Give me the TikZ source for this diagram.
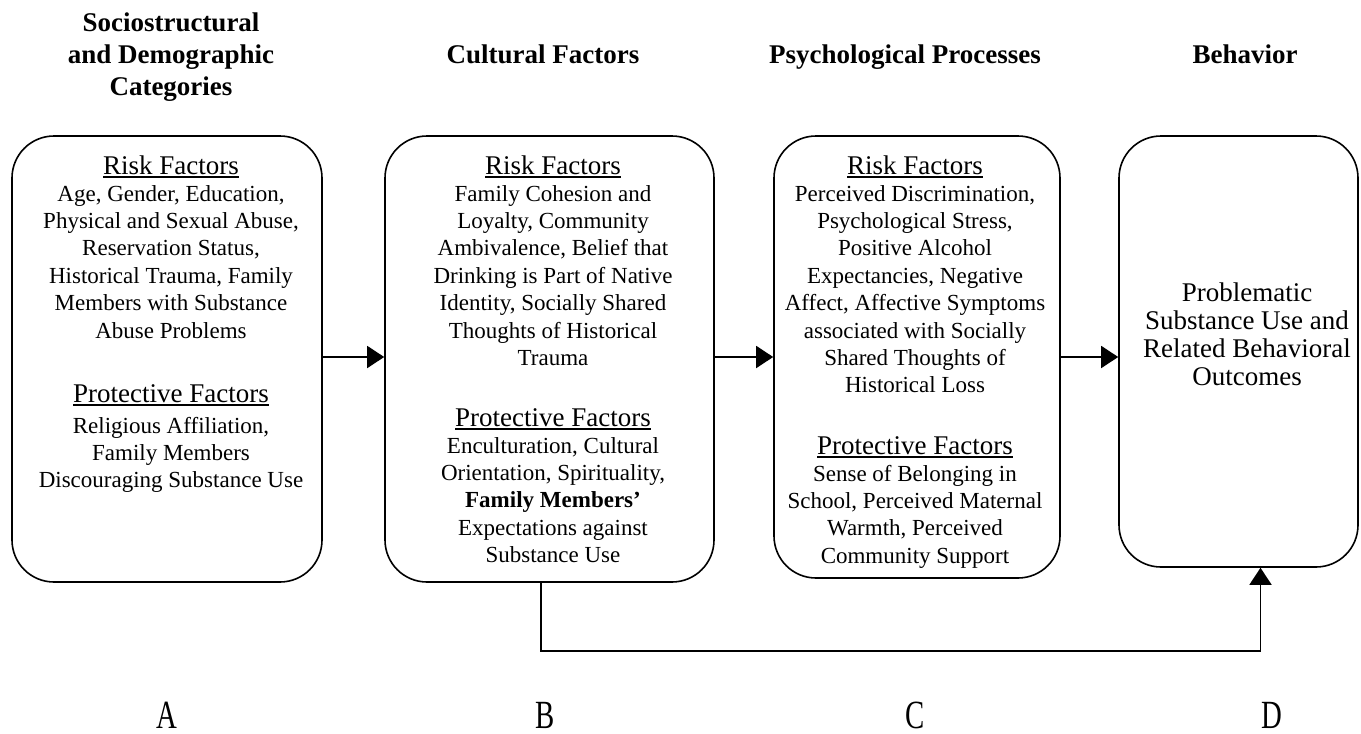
\documentclass[tikz,border=0pt]{standalone}
\usepackage{fontspec}
\setmainfont{Liberation Serif}
\usepackage{graphicx}
\usetikzlibrary{arrows.meta}
\newcommand\myul[1]{\setbox0\hbox{#1}\rlap{\rule[-3.5pt]{\wd0}{1.6pt}}\box0}
\newcommand\mylines[1]{\begin{tabular}[t]{@{}c@{}}#1\end{tabular}}
\tikzset{
  box/.style={draw, line width=1.6pt, rounded corners=42pt, inner sep=0pt},
  arr/.style={line width=1.6pt, -{Triangle[length=17pt,width=22pt]}},
  hdr/.style={anchor=base, inner sep=0pt, font=\fontsize{27}{32}\selectfont\bfseries},
  sub/.style={anchor=base, inner sep=0pt, font=\fontsize{27}{28}\selectfont},
  body/.style={anchor=base, inner sep=0pt, font=\fontsize{23}{27.4}\selectfont},
  big/.style={anchor=base, inner sep=0pt, font=\fontsize{27}{28}\selectfont},
  lbl/.style={anchor=base, inner sep=0pt, font=\fontsize{40}{40}\selectfont}
}
\begin{document}
\begin{tikzpicture}[x=1pt, y=-1pt]
\useasboundingbox (0,0) rectangle (1361,734);
% headers
\node[hdr] (hA) at (171,31) {\mylines{Sociostructural\\and Demographic\\Categories}};
\node[hdr] (hB) at (543,63) {Cultural Factors};
\node[hdr] (hC) at (905,63) {Psychological Processes};
\node[hdr] (hD) at (1245,63) {Behavior};
% boxes
\node[box, minimum width=310pt, minimum height=446pt] (A) at (167,359) {};
\node[box, minimum width=329pt, minimum height=446pt] (B) at (549.5,359) {};
\node[box, minimum width=286pt, minimum height=442pt] (C) at (917,357) {};
\node[box, minimum width=239pt, minimum height=431pt] (D) at (1238.5,351.5) {};
% box A text
\node[sub] (rA) at (171,174) {\myul{Risk Factors}};
\node[body] (rAt) at (171,201) {\mylines{Age, Gender, Education,\\Physical and Sexual Abuse,\\Reservation Status,\\Historical Trauma, Family\\Members with Substance\\Abuse Problems}};
\node[sub] (pA) at (171,402) {\myul{Protective Factors}};
\node[body] (pAt) at (171,433) {\mylines{Religious Affiliation,\\Family Members\\Discouraging Substance Use}};
% box B text
\node[sub] (rB) at (553,174) {\myul{Risk Factors}};
\node[body] (rBt) at (553,201) {\mylines{Family Cohesion and\\Loyalty, Community\\Ambivalence, Belief that\\Drinking is Part of Native\\Identity, Socially Shared\\Thoughts of Historical\\Trauma}};
\node[sub] (pB) at (553,426) {\myul{Protective Factors}};
\node[body] (pBt) at (553,453) {\mylines{Enculturation, Cultural\\Orientation, Spirituality,\\\textbf{Family Members’}\\Expectations against\\Substance Use}};
% box C text
\node[sub] (rC) at (915,174) {\myul{Risk Factors}};
\node[body] (rCt) at (915,201) {\mylines{Perceived Discrimination,\\Psychological Stress,\\Positive Alcohol\\Expectancies, Negative\\Affect, Affective Symptoms\\associated with Socially\\Shared Thoughts of\\Historical Loss}};
\node[sub] (pC) at (915,454) {\myul{Protective Factors}};
\node[body] (pCt) at (915,481) {\mylines{Sense of Belonging in\\School, Perceived Maternal\\Warmth, Perceived\\Community Support}};
% box D text
\node[big] (dt) at (1247,301) {\mylines{Problematic\\Substance Use and\\Related Behavioral\\Outcomes}};
% connectors
\draw[arr] (A.east |- 0,357) -- (B.west |- 0,357);
\draw[arr] (B.east |- 0,357) -- (C.west |- 0,357);
\draw[arr] (C.east |- 0,357) -- (D.west |- 0,357);
\coordinate (turn) at (541,651);
\draw[arr] (B.south -| turn) -- (turn) -| ([xshift=22pt]D.south);
% letters
\node[lbl] (la) at (167,728) {\scalebox{0.72}[1]{A}};
\node[lbl] (lb) at (545,728) {\scalebox{0.72}[1]{B}};
\node[lbl] (lc) at (915,728) {\scalebox{0.72}[1]{C}};
\node[lbl] (ld) at (1272,728) {\scalebox{0.72}[1]{D}};
\end{tikzpicture}
\end{document}
